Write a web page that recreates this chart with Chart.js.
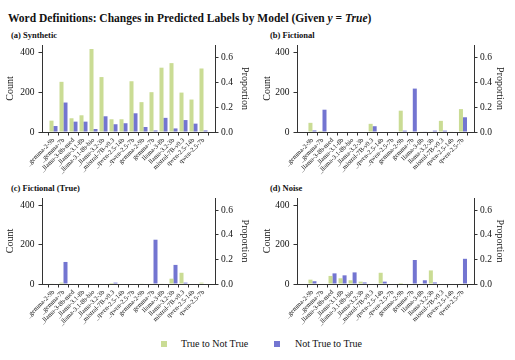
<!DOCTYPE html>
<html><head><meta charset="utf-8">
<script src="https://cdn.jsdelivr.net/npm/chart.js@4.4.1/dist/chart.umd.min.js"></script>
<style>
html,body{margin:0;padding:0;background:#fff;}
#wrap{position:relative;width:515px;height:360px;overflow:hidden;font-family:"Liberation Serif","Times New Roman",Times,serif;color:#111;}
.cv{position:absolute;}
.tx{font-family:"Liberation Serif","Times New Roman",Times,serif;}
#title{position:absolute;left:8px;top:13px;font-size:11.5px;line-height:11.5px;font-weight:bold;white-space:nowrap;}
.sub{position:absolute;font-size:8.5px;line-height:8.5px;font-weight:bold;white-space:nowrap;}
.leg{position:absolute;font-size:10px;line-height:10px;white-space:nowrap;}
.sw{position:absolute;width:6px;height:6px;}
</style></head><body>
<div id="wrap">
 <div id="title" class="tx">Word Definitions: Changes in Predicted Labels by Model (Given <i class="tx">y</i> = <i class="tx">True</i>)</div>
 <div class="sub tx" style="left:11px;top:31px">(a) Synthetic</div>
 <div class="sub tx" style="left:270px;top:31px">(b) Fictional</div>
 <div class="sub tx" style="left:11px;top:184px">(c) Fictional (True)</div>
 <div class="sub tx" style="left:270px;top:184px">(d) Noise</div>
 <canvas id="cA" class="cv" style="left:0;top:40px" width="257" height="150"></canvas>
 <canvas id="cB" class="cv" style="left:257px;top:40px" width="258" height="150"></canvas>
 <canvas id="cC" class="cv" style="left:0;top:190px" width="257" height="140"></canvas>
 <canvas id="cD" class="cv" style="left:257px;top:190px" width="258" height="140"></canvas>
 <div id="sw1" class="sw" style="left:161px;top:341px"></div>
 <div class="leg tx" style="left:181px;top:339px">True to Not True</div>
 <div id="sw2" class="sw" style="left:274px;top:341px"></div>
 <div class="leg tx" style="left:295px;top:339px">Not True to True</div>
</div>
<script>
// ---- data ----
const categories = ["_gemma-2-9b","_gemma-7b","_llama-3-8b-med","_llama-3.1-8b","_llama-3.1-8b-bio","_llama-3.2-3b","_mistral-7B-v0.3","_qwen-2.5-14b","_qwen-2.5-7b","gemma-2-9b","gemma-7b","llama-3-8b","llama-3.2-3b","mistral-7B-v0.3","qwen-2.5-14b","qwen-2.5-7b"];
const seriesNames = ["True to Not True","Not True to True"];
const synthetic_trueToNot = [57,252,69,84,417,276,64,64,255,150,200,323,346,198,163,319];
const synthetic_notToTrue = [30,148,52,52,15,79,39,44,94,25,8,71,18,60,42,8];
const fictional_trueToNot = [46,5,0,0,0,0,41,0,0,107,3,3,2,56,3,115];
const fictional_notToTrue = [8,112,0,0,0,0,29,0,0,7,218,2,7,7,0,74];
const fictionalTrue_trueToNot = [3,7,0,0,0,0,5,0,0,2,3,3,27,57,0,7];
const fictionalTrue_notToTrue = [0,112,0,0,0,0,7,0,0,0,225,0,97,7,0,0];
const noise_trueToNot = [22,0,41,29,19,12,0,57,0,5,0,3,69,0,0,3];
const noise_notToTrue = [14,0,54,44,59,8,0,12,0,0,122,19,8,0,0,128];
const countTicks = [0,200,400];
const proportionTicks = [0,0.2,0.4,0.6];
const COUNT_MAX = 437;
const TOTAL_N = 624;

// ---- style ----
const GREEN = 'rgba(181,207,107,0.72)';
const BLUE = 'rgba(107,110,207,0.95)';
const AX = '#333';
const F = "'Liberation Serif','Times New Roman',serif";
document.getElementById('sw1').style.background = GREEN;
document.getElementById('sw2').style.background = BLUE;

function makePanel(id, green, blue, cfg){
  new Chart(document.getElementById(id), {
    type:'bar',
    data:{datasets:[
      {label:seriesNames[0], data:green.map((v,i)=>({x:i,y:v})), backgroundColor:GREEN, categoryPercentage:0.8, barPercentage:1.0, yAxisID:'y'},
      {label:seriesNames[1], data:blue.map((v,i)=>({x:i,y:v})), backgroundColor:BLUE, categoryPercentage:0.8, barPercentage:1.0, yAxisID:'y'}
    ]},
    options:{
      responsive:false, animation:false, devicePixelRatio:1,
      layout:{padding:{top:cfg.padTop,left:0,right:0,bottom:0}},
      plugins:{legend:{display:false}, tooltip:{enabled:false}},
      scales:{
        x:{type:'linear', min:cfg.xmin, max:cfg.xmax, offset:false,
          grid:{display:true, drawOnChartArea:false, drawTicks:true, tickLength:3.5, color:AX},
          border:{display:true, color:AX, width:1},
          ticks:{autoSkip:false, maxRotation:45, minRotation:45, font:{family:F,size:6.5}, color:'#111', padding:1,
            callback:(v)=>categories[v]},
          afterBuildTicks:(s)=>{ s.ticks = categories.map((c,i)=>({value:i})); },
          afterFit:(s)=>{ s.height = cfg.xH; s.paddingLeft=0; s.paddingRight=0; }
        },
        y:{type:'linear', position:'left', min:0, max:COUNT_MAX,
          grid:{display:true, drawOnChartArea:false, drawTicks:true, tickLength:3.5, color:AX},
          border:{display:true, color:AX, width:1},
          ticks:{font:{family:F,size:9.5}, color:'#111', padding:4, callback:(v)=>String(v)},
          title:{display:true, text:'Count', font:{family:F,size:10}, color:'#111', padding:{top:4.5,bottom:0}},
          afterBuildTicks:(s)=>{ s.ticks = countTicks.map(v=>({value:v})); },
          afterFit:(s)=>{ s.width = cfg.yW; s.paddingTop=0; s.paddingBottom=0; }
        },
        y2:{type:'linear', position:'right', min:0, max:COUNT_MAX/TOTAL_N,
          grid:{display:true, drawOnChartArea:false, drawTicks:true, tickLength:3.5, color:AX},
          border:{display:true, color:AX, width:1},
          ticks:{font:{family:F,size:9.5}, color:'#111', padding:2.5, callback:(v)=>v.toFixed(1)},
          title:{display:true, text:'Proportion', font:{family:F,size:10}, color:'#111', padding:{top:cfg.rt,bottom:0}},
          afterBuildTicks:(s)=>{ s.ticks = proportionTicks.map(v=>({value:v})); },
          afterFit:(s)=>{ s.width = cfg.y2W; s.paddingTop=0; s.paddingBottom=0; }
        }
      }
    }
  });
}

makePanel('cA', synthetic_trueToNot, synthetic_notToTrue, {padTop:5, xH:58, yW:42, y2W:42, rt:6.5, xmin:-1.15, xmax:16.15});
makePanel('cB', fictional_trueToNot, fictional_notToTrue, {padTop:5, xH:58, yW:40, y2W:41, rt:9, xmin:-1.54, xmax:16.1});
makePanel('cC', fictionalTrue_trueToNot, fictionalTrue_notToTrue, {padTop:8, xH:46, yW:42, y2W:42, rt:6.5, xmin:-1.15, xmax:16.15});
makePanel('cD', noise_trueToNot, noise_notToTrue, {padTop:8, xH:46, yW:40, y2W:41, rt:9, xmin:-1.54, xmax:16.1});
</script>
</body></html>
